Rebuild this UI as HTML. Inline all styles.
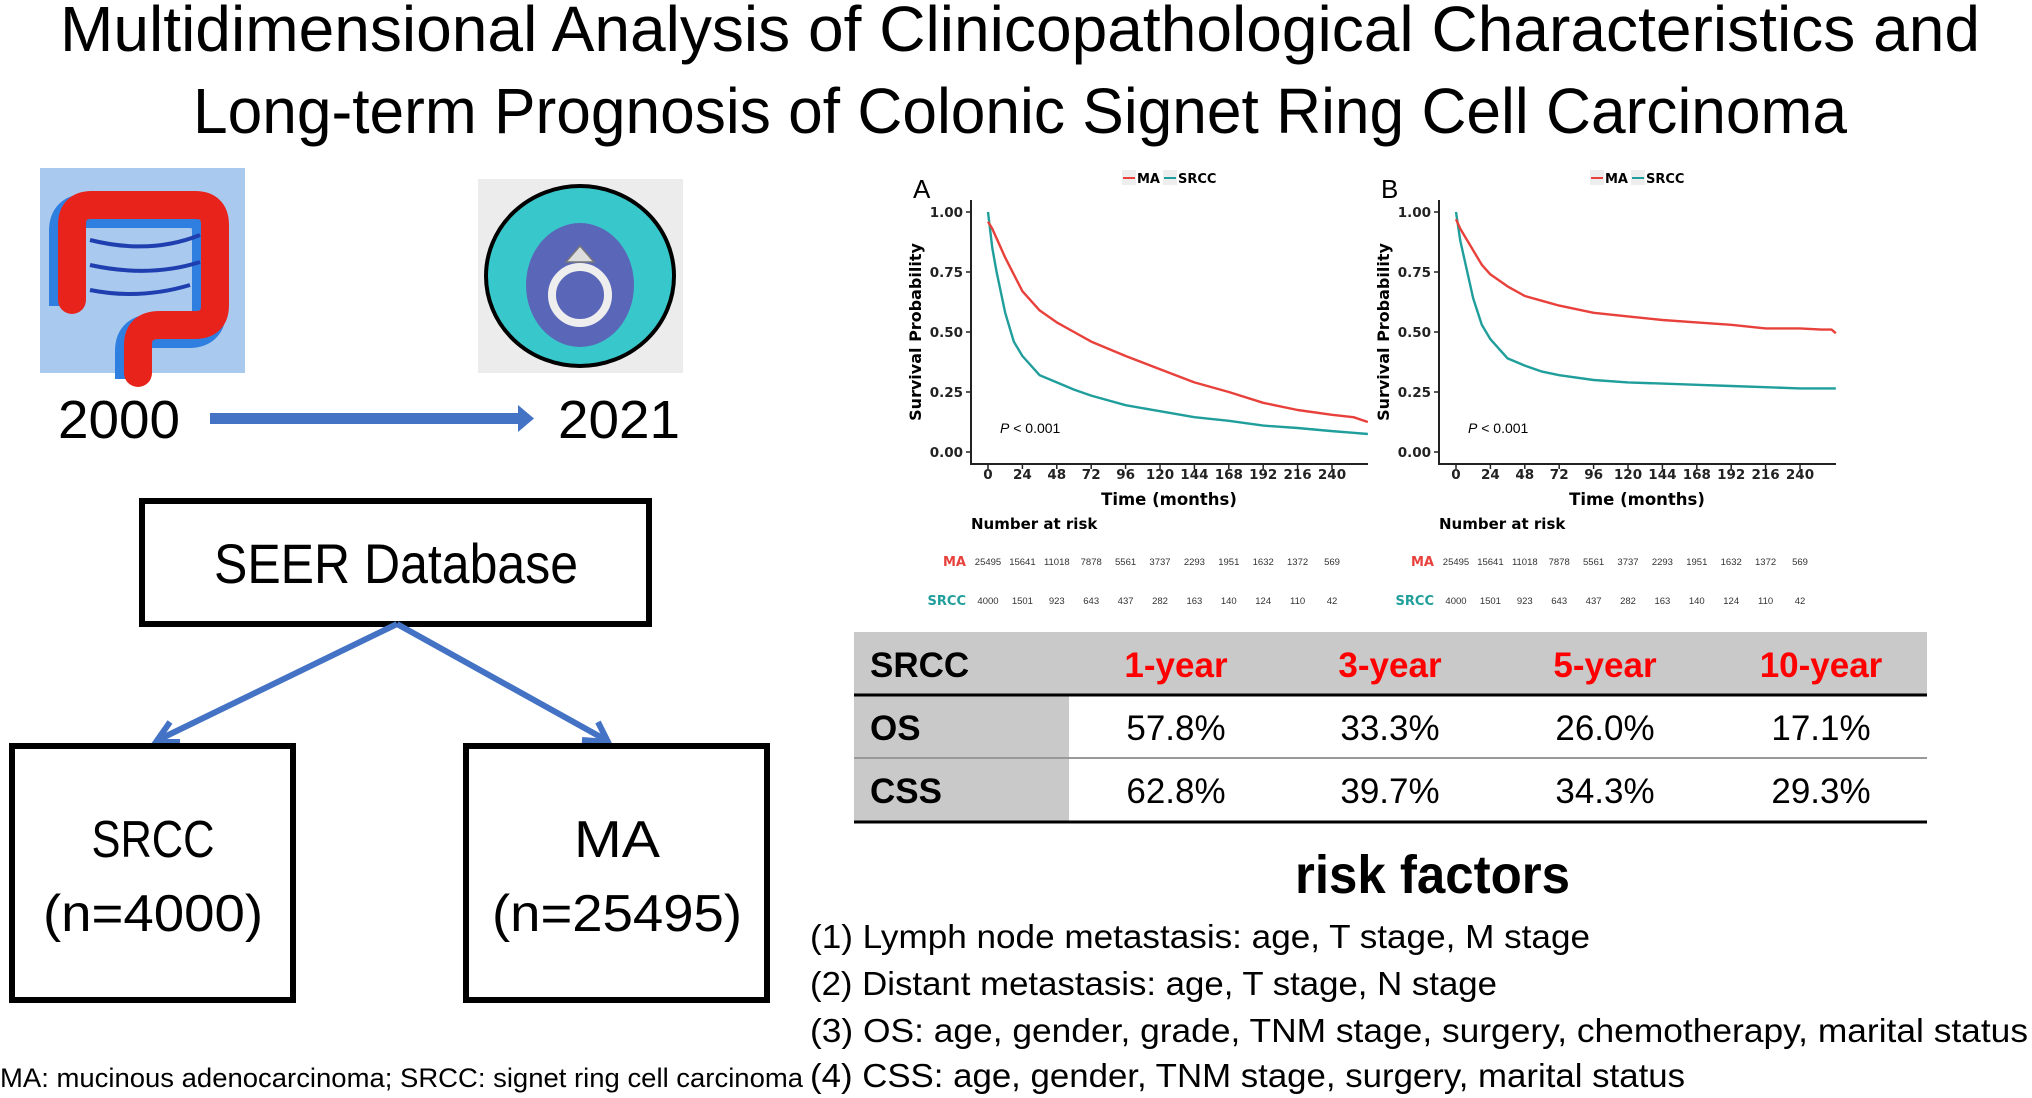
<!DOCTYPE html>
<html><head><meta charset="utf-8"><style>
html,body{margin:0;padding:0;background:#fff;}
svg{display:block;}
text{font-family:"Liberation Sans",sans-serif;}
.dj{font-family:"DejaVu Sans","Liberation Sans",sans-serif;font-weight:bold;}
</style></head><body>
<svg id="root" width="2032" height="1098" viewBox="0 0 2032 1098" xmlns="http://www.w3.org/2000/svg">
<text x="60" y="51" font-size="64" textLength="1920" lengthAdjust="spacingAndGlyphs">Multidimensional Analysis of Clinicopathological Characteristics and</text>
<text x="193" y="133" font-size="64" textLength="1654" lengthAdjust="spacingAndGlyphs">Long-term Prognosis of Colonic Signet Ring Cell Carcinoma</text>

<g>
<rect x="40" y="168" width="205" height="205" fill="#a9c9ee"/>
<path d="M72 300 L72 225 Q72 205 92 205 L195 205 Q215 205 215 225 L215 305 Q215 325 195 325 L160 325 Q138 325 138 345 L138 373" fill="none" stroke="#2f7fe0" stroke-width="34" transform="translate(-6,6)"/>
<path d="M72 300 L72 225 Q72 205 92 205 L195 205 Q215 205 215 225 L215 305 Q215 325 195 325 L160 325 Q138 325 138 345 L138 373" fill="none" stroke="#e8231c" stroke-width="28" stroke-linecap="round"/>
<path d="M90 240 Q150 255 200 235 M90 265 Q150 278 200 262 M90 290 Q140 300 190 285" fill="none" stroke="#1f3fb0" stroke-width="4"/>
</g>
<g>
<rect x="478" y="179" width="205" height="194" fill="#ececec"/>
<ellipse cx="580" cy="276" rx="94" ry="90" fill="#38c8cc" stroke="#000" stroke-width="4"/>
<ellipse cx="580" cy="285" rx="54" ry="62" fill="#5a66b8"/>
<circle cx="580" cy="295" r="28" fill="none" stroke="#eee" stroke-width="8"/>
<path d="M566 262 L594 262 L580 246 Z" fill="#ddd" stroke="#777" stroke-width="1.5"/>
</g>
<text x="58" y="438" font-size="54" textLength="122" lengthAdjust="spacingAndGlyphs">2000</text>
<text x="558" y="438" font-size="54" textLength="122" lengthAdjust="spacingAndGlyphs">2021</text>
<g>
<rect x="210" y="413" width="310" height="11" fill="#4472c4"/>
<path d="M518 405 L534 418.5 L518 432 Z" fill="#4472c4"/>
</g>

<rect x="142" y="501" width="507" height="123" fill="none" stroke="#000" stroke-width="6"/>
<text x="396" y="583" font-size="56" text-anchor="middle" textLength="364" lengthAdjust="spacingAndGlyphs">SEER Database</text>
<g stroke="#4472c4" stroke-width="6" fill="none">
<path d="M397 624 L158 740"/><path d="M170 722 L156 742 L180 742"/>
<path d="M397 624 L606 740"/><path d="M582 740 L608 742 L598 722"/>
</g>
<rect x="12" y="746" width="281" height="254" fill="none" stroke="#000" stroke-width="6"/>
<text x="153" y="857" font-size="52" text-anchor="middle" textLength="123" lengthAdjust="spacingAndGlyphs">SRCC</text>
<text x="153" y="931" font-size="52" text-anchor="middle" textLength="220" lengthAdjust="spacingAndGlyphs">(n=4000)</text>
<rect x="466" y="746" width="301" height="254" fill="none" stroke="#000" stroke-width="6"/>
<text x="617" y="857" font-size="52" text-anchor="middle" textLength="86" lengthAdjust="spacingAndGlyphs">MA</text>
<text x="617" y="931" font-size="52" text-anchor="middle" textLength="250" lengthAdjust="spacingAndGlyphs">(n=25495)</text>
<text x="0" y="1087" font-size="27" textLength="803" lengthAdjust="spacingAndGlyphs">MA: mucinous adenocarcinoma; SRCC: signet ring cell carcinoma</text>

<g id="charts"></g>

<g>
<rect x="854" y="632" width="1073" height="63" fill="#c9c9c9"/>
<rect x="854" y="695" width="215" height="127" fill="#c9c9c9"/>
<line x1="854" y1="695" x2="1927" y2="695" stroke="#000" stroke-width="3"/>
<line x1="854" y1="758" x2="1927" y2="758" stroke="#999" stroke-width="2"/>
<line x1="854" y1="822" x2="1927" y2="822" stroke="#000" stroke-width="3"/>
<text x="870" y="677" font-size="35" font-weight="bold">SRCC</text>
<text x="1176" y="677" font-size="35" font-weight="bold" fill="#f00" text-anchor="middle">1-year</text>
<text x="1390" y="677" font-size="35" font-weight="bold" fill="#f00" text-anchor="middle">3-year</text>
<text x="1605" y="677" font-size="35" font-weight="bold" fill="#f00" text-anchor="middle">5-year</text>
<text x="1821" y="677" font-size="35" font-weight="bold" fill="#f00" text-anchor="middle">10-year</text>
<text x="870" y="740" font-size="35" font-weight="bold">OS</text>
<text x="870" y="803" font-size="35" font-weight="bold">CSS</text>
<text x="1176" y="740" font-size="35" text-anchor="middle">57.8%</text>
<text x="1390" y="740" font-size="35" text-anchor="middle">33.3%</text>
<text x="1605" y="740" font-size="35" text-anchor="middle">26.0%</text>
<text x="1821" y="740" font-size="35" text-anchor="middle">17.1%</text>
<text x="1176" y="803" font-size="35" text-anchor="middle">62.8%</text>
<text x="1390" y="803" font-size="35" text-anchor="middle">39.7%</text>
<text x="1605" y="803" font-size="35" text-anchor="middle">34.3%</text>
<text x="1821" y="803" font-size="35" text-anchor="middle">29.3%</text>
</g>

<text x="1295" y="893" font-size="54" font-weight="bold" textLength="275" lengthAdjust="spacingAndGlyphs">risk factors</text>
<text x="810" y="948" font-size="33" textLength="780" lengthAdjust="spacingAndGlyphs">(1) Lymph node metastasis: age, T stage, M stage</text>
<text x="810" y="995" font-size="33" textLength="687" lengthAdjust="spacingAndGlyphs">(2) Distant metastasis: age, T stage, N stage</text>
<text x="810" y="1042" font-size="33" textLength="1218" lengthAdjust="spacingAndGlyphs">(3) OS: age, gender, grade, TNM stage, surgery, chemotherapy, marital status</text>
<text x="810" y="1087" font-size="33" textLength="875" lengthAdjust="spacingAndGlyphs">(4) CSS: age, gender, TNM stage, surgery, marital status</text>
</svg>
<script>
var xTicks = [0,24,48,72,96,120,144,168,192,216,240];
var yTicks = [0,0.25,0.5,0.75,1];
var yTickLabels = ["0.00","0.25","0.50","0.75","1.00"];
var timesA = [0,3,6,12,18,24,36,48,60,72,96,120,144,168,192,216,240,255,265];
var maA   = [0.96,0.93,0.89,0.81,0.74,0.67,0.59,0.54,0.50,0.46,0.40,0.345,0.29,0.25,0.205,0.175,0.155,0.145,0.125];
var srccA = [1.0,0.85,0.75,0.58,0.46,0.40,0.32,0.29,0.26,0.235,0.195,0.17,0.145,0.13,0.11,0.10,0.087,0.08,0.075];
var timesB = [0,3,6,12,18,24,36,48,60,72,96,120,144,168,192,216,240,255,262,265];
var maB   = [0.97,0.93,0.90,0.84,0.78,0.74,0.69,0.65,0.63,0.61,0.58,0.565,0.55,0.54,0.53,0.515,0.515,0.51,0.51,0.495];
var srccB = [1.0,0.88,0.80,0.64,0.53,0.47,0.39,0.36,0.335,0.32,0.30,0.29,0.285,0.28,0.275,0.27,0.265,0.265,0.265,0.265];
var riskMA = ["25495","15641","11018","7878","5561","3737","2293","1951","1632","1372","569"];
var riskSRCC = ["4000","1501","923","643","437","282","163","140","124","110","42"];

var NS = "http://www.w3.org/2000/svg";
var charts = document.getElementById('charts');
function mk(tag, attrs, parent, txt){
  var e = document.createElementNS(NS, tag);
  for (var k in attrs) e.setAttribute(k, attrs[k]);
  if (txt !== undefined) e.textContent = txt;
  parent.appendChild(e);
  return e;
}
function panel(off, letter, times, ma, srcc, id){
  var g = mk('g', {}, charts);
  
  
  var xs = function(t){ return off + 988 + t * (344/240); };
  var ys = function(v){ return 452 - v * 240; };
  var L = mk('text', {x: off+913, y: 198, 'font-size': 26}, g, letter);
  
  
  var lg = mk('g', {}, g);
  
  
  var lx = off + 1123;
  mk('rect', {x: lx-1, y: 170, width: 14, height: 15, fill: '#eee'}, lg);
  mk('line', {x1: lx, y1: 178, x2: lx+12, y2: 178, stroke: '#e8413b', 'stroke-width': 2}, lg);
  mk('text', {x: lx+14, y: 183, 'font-size': 13, 'class': 'dj'}, lg, 'MA');
  mk('rect', {x: lx+40, y: 170, width: 14, height: 15, fill: '#eee'}, lg);
  mk('line', {x1: lx+41, y1: 178, x2: lx+53, y2: 178, stroke: '#1f9e9c', 'stroke-width': 2}, lg);
  mk('text', {x: lx+55, y: 183, 'font-size': 13, 'class': 'dj'}, lg, 'SRCC');
  mk('line', {x1: off+971, y1: 200, x2: off+971, y2: 465, stroke: '#222', 'stroke-width': 2}, g);
  mk('line', {x1: off+970, y1: 464, x2: off+1368, y2: 464, stroke: '#222', 'stroke-width': 2}, g);
  yTicks.forEach(function(v, i){
    mk('line', {x1: off+966, y1: ys(v), x2: off+971, y2: ys(v), stroke: '#222', 'stroke-width': 1.5}, g);
    var t = mk('text', {x: off+963, y: ys(v)+5, 'font-size': 13.5, 'text-anchor': 'end', 'class': 'dj', fill: '#222'}, g, yTickLabels[i]);
    
    
  });
  xTicks.forEach(function(v){
    mk('line', {x1: xs(v), y1: 464, x2: xs(v), y2: 469, stroke: '#222', 'stroke-width': 1.5}, g);
    var t = mk('text', {x: xs(v), y: 479, 'font-size': 13.5, 'text-anchor': 'middle', 'class': 'dj', fill: '#222'}, g, String(v));
    
    
  });
  var yl = mk('text', {x: 0, y: 0, 'font-size': 16, 'text-anchor': 'middle', 'class': 'dj', transform: 'translate(' + (off+921) + ',332) rotate(-90)'}, g, 'Survival Probability');
  
  
  var xl = mk('text', {x: off+1169, y: 505, 'font-size': 16.5, 'text-anchor': 'middle', 'class': 'dj'}, g, 'Time (months)');
  
  
  var p = mk('text', {x: off+1000, y: 433, 'font-size': 14}, g);
  
  
  mk('tspan', {'font-style': 'italic'}, p, 'P');
  mk('tspan', {}, p, ' < 0.001');
  function path(vals, color, name){
    var d = '';
    for (var i = 0; i < times.length; i++){
      d += (i === 0 ? 'M' : ' L') + xs(times[i]) + ' ' + ys(vals[i]);
    }
    var e = mk('path', {d: d, fill: 'none', stroke: color, 'stroke-width': 2.4, 'stroke-linejoin': 'round'}, g);
    
    
  }
  path(srcc, '#1f9e9c', 'srcc-curve');
  path(ma, '#e8413b', 'ma-curve');
  var nr = mk('text', {x: off+971, y: 529, 'font-size': 15, 'class': 'dj'}, g, 'Number at risk');
  
  
  var m = mk('text', {x: off+966, y: 566, 'font-size': 13, 'class': 'dj', fill: '#e8413b', 'text-anchor': 'end'}, g, 'MA');
  
  
  var s = mk('text', {x: off+966, y: 605, 'font-size': 13, 'class': 'dj', fill: '#1f9e9c', 'text-anchor': 'end'}, g, 'SRCC');
  
  
  xTicks.forEach(function(v, i){
    var a = mk('text', {x: xs(v), y: 565, 'font-size': 9.5, 'text-anchor': 'middle', fill: '#333', 'font-family': 'DejaVu Sans, sans-serif'}, g, riskMA[i]);
    
    
    var b = mk('text', {x: xs(v), y: 604, 'font-size': 9.5, 'text-anchor': 'middle', fill: '#333', 'font-family': 'DejaVu Sans, sans-serif'}, g, riskSRCC[i]);
    
    
  });
}
panel(0, 'A', timesA, maA, srccA, 'a');
panel(468, 'B', timesB, maB, srccB, 'b');
</script>
</body></html>
